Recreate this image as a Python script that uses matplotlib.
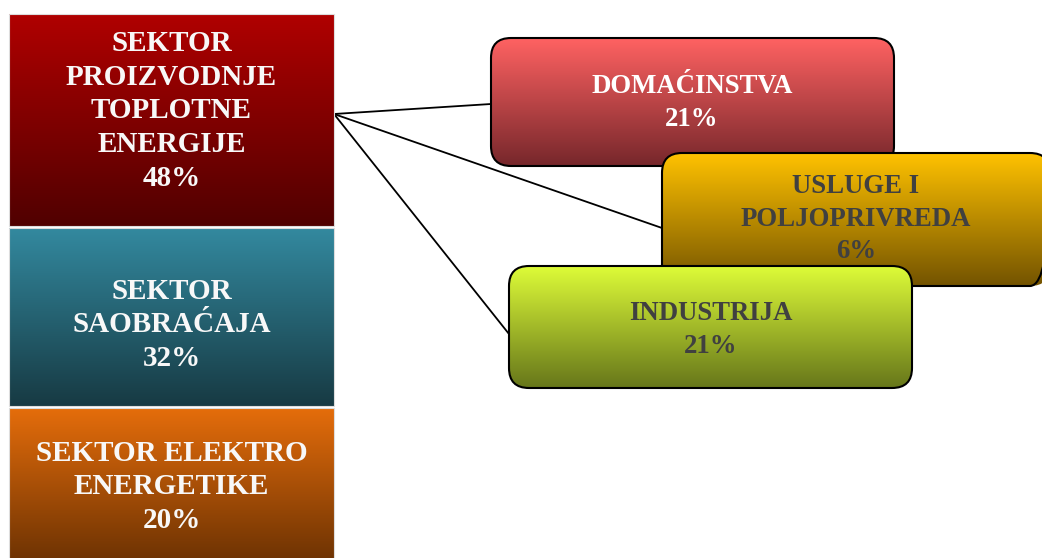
import matplotlib
matplotlib.use("Agg")
import matplotlib.pyplot as plt
import numpy as np
from matplotlib.patches import FancyBboxPatch, Rectangle
from matplotlib.colors import to_rgb

# ---- data ----
sectors = ["SEKTOR\nPROIZVODNJE\nTOPLOTNE\nENERGIJE", "SEKTOR\nSAOBRAĆAJA", "SEKTOR ELEKTRO\nENERGETIKE"]
sector_shares = [48, 32, 20]
sub_sectors = ["DOMAĆINSTVA", "USLUGE I\nPOLJOPRIVREDA", "INDUSTRIJA"]
sub_shares = [21, 6, 21]

# ---- layout / style ----
W, H = 1042, 558
left_boxes = [(9, 14, 334, 226), (9, 228, 334, 406), (9, 408, 334, 560)]
left_text_y = [111, 325, 487]
left_grad = [("#B00000", "#500000"), ("#33899F", "#173A43"), ("#E56D0B", "#6E3303")]

right_boxes = [(491, 38, 894, 166), (662, 153, 1050, 286), (509, 266, 912, 388)]
right_text_xy = [(692, 103), (856, 219), (711, 330)]
right_grad = [("#FF6262", "#76272B"), ("#FFC200", "#735300"), ("#DEFC38", "#66761A")]
right_text_col = ["white", "#404040", "#404040"]
anchor = (334, 114)
targets = [(491, 104), (662, 228), (509, 334)]

fig = plt.figure(figsize=(W / 100, H / 100), dpi=100)
ax = fig.add_axes([0, 0, 1, 1])
ax.set_xlim(0, W)
ax.set_ylim(H, 0)
ax.axis("off")

FONT = "Liberation Serif"


def gradient(c0, c1, n=256):
    a, b = np.array(to_rgb(c0)), np.array(to_rgb(c1))
    t = np.linspace(0, 1, n)[:, None]
    return (a * (1 - t) + b * t)[:, None, :]


# connector lines
for tx, ty in targets:
    ax.plot([anchor[0], tx], [anchor[1], ty], color="black", lw=1.3, zorder=1)

# left blocks
for (x0, y0, x1, y1), (c0, c1), name, share, ty in zip(left_boxes, left_grad, sectors, sector_shares, left_text_y):
    ax.imshow(gradient(c0, c1), extent=(x0, x1, y1, y0), aspect="auto", zorder=2)
    rect = Rectangle((x0, y0), x1 - x0, y1 - y0, facecolor="none", edgecolor="#DDDDDD", lw=0.8, zorder=3)
    ax.add_patch(rect)
    ax.text((x0 + x1) / 2, ty, f"{name}\n{share}%", ha="center", va="center", color="#F8F8F8",
            fontsize=21, fontweight="bold", family=FONT, linespacing=1.33, zorder=4)

# right rounded boxes
for i, ((x0, y0, x1, y1), (c0, c1), name, share, col, (tx, ty)) in enumerate(
        zip(right_boxes, right_grad, sub_sectors, sub_shares, right_text_col, right_text_xy)):
    z = 5 + i * 3
    patch = FancyBboxPatch((x0, y0), x1 - x0, y1 - y0, boxstyle="round,pad=0,rounding_size=20",
                           facecolor="none", edgecolor="black", lw=1.5, zorder=z + 1)
    ax.add_patch(patch)
    im = ax.imshow(gradient(c0, c1), extent=(x0, x1, y1, y0), aspect="auto", zorder=z)
    im.set_clip_path(patch)
    ax.text(tx, ty, f"{name}\n{share}%",
            ha="center", va="center", color=col, fontsize=19.3, fontweight="bold",
            family=FONT, linespacing=1.37, zorder=z + 2)

ax.set_xlim(0, W)
ax.set_ylim(H, 0)
fig.savefig("out.png", dpi=100)
